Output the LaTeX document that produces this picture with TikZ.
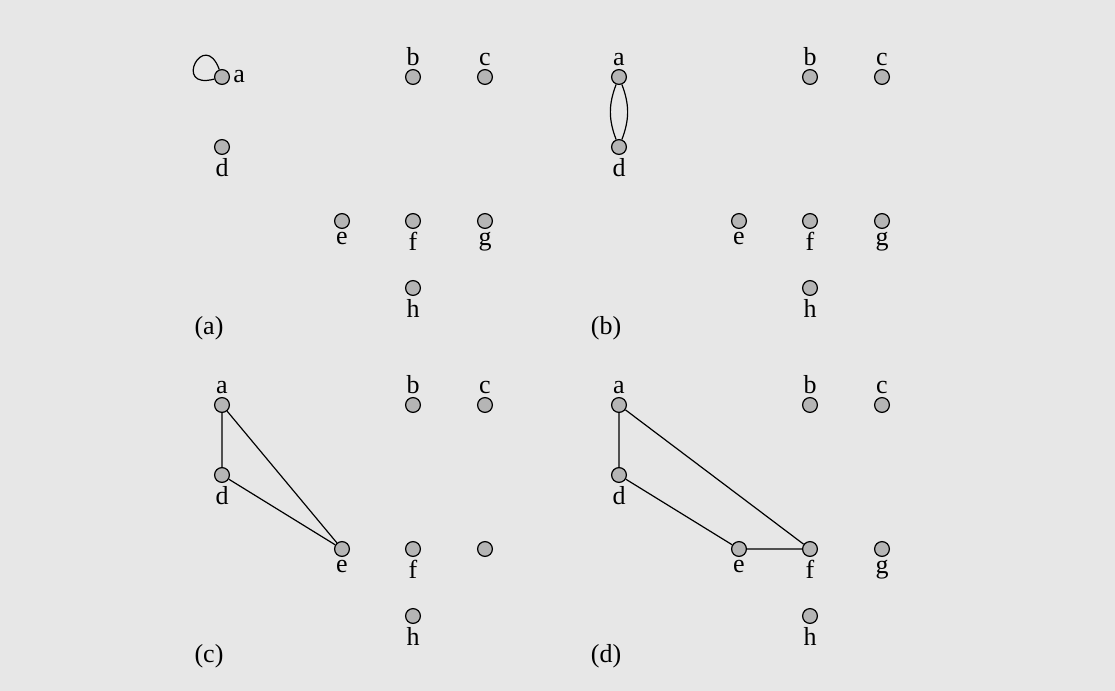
\documentclass[tikz,border=0pt]{standalone}
\usepackage{fontspec}
\setmainfont{Liberation Serif}
\usetikzlibrary{positioning}
\definecolor{panelbg}{gray}{0.905}
\definecolor{vgray}{gray}{0.71}
\tikzset{
  vertex/.style={
    inner sep = 0pt,
    minimum size = 7.4pt,
    shape = circle,
    line width = 0.6pt,
    draw,
    fill = vgray
  },
  every label/.style = {
    inner sep = 1.5pt,
    font = \fontsize{13}{15}\selectfont
  },
  tag/.style={
    inner sep = 0pt,
    font = \fontsize{13}{15}\selectfont
  },
  every loop/.style = {},
  edge/.style = {line width=0.6pt}
}
\begin{document}
\begin{tikzpicture}[x=0.5pt,y=0.5pt]
    \fill[panelbg] (0,0) rectangle (1115,-691);
    % (a)
    \begin{scope}
    \node[vertex,label=right:a] (a1) at (222,-77) {};
    \node[vertex,label=above:b] (b1) at (413,-77) {};
    \node[vertex,label=above:c] (c1) at (485,-77) {};
    \node[vertex,label=below:d] (d1) at (222,-147) {};
    \node[vertex,label=below:e] (e1) at (342,-221) {};
    \node[vertex,label=below:f] (f1) at (413,-221) {};
    \node[vertex,label=below:g] (g1) at (485,-221) {};
    \node[vertex,label=below:h] (h1) at (413,-288) {};
    \node[tag] (t1) at (209,-328) {(a)};
    \draw[edge] (a1) to[loop,out=110,in=195,min distance=22pt] (a1);
    \end{scope}
    % (b)
    \begin{scope}[xshift=198.5pt]
    \node[vertex,label=above:a] (a2) at (222,-77) {};
    \node[vertex,label=above:b] (b2) at (413,-77) {};
    \node[vertex,label=above:c] (c2) at (485,-77) {};
    \node[vertex,label=below:d] (d2) at (222,-147) {};
    \node[vertex,label=below:e] (e2) at (342,-221) {};
    \node[vertex,label=below:f] (f2) at (413,-221) {};
    \node[vertex,label=below:g] (g2) at (485,-221) {};
    \node[vertex,label=below:h] (h2) at (413,-288) {};
    \node[tag] (t2) at (209,-328) {(b)};
    \draw[edge] (a2) to[bend left=21] (d2);
    \draw[edge] (a2) to[bend right=21] (d2);
    \end{scope}
    % (c)
    \begin{scope}[yshift=-164pt]
    \node[vertex,label=above:a] (a3) at (222,-77) {};
    \node[vertex,label=above:b] (b3) at (413,-77) {};
    \node[vertex,label=above:c] (c3) at (485,-77) {};
    \node[vertex,label=below:d] (d3) at (222,-147) {};
    \node[vertex,label=below:e] (e3) at (342,-221) {};
    \node[vertex,label=below:f] (f3) at (413,-221) {};
    \node[vertex] (g3) at (485,-221) {};
    \node[vertex,label=below:h] (h3) at (413,-288) {};
    \node[tag] (t3) at (209,-328) {(c)};
    \draw[edge] (a3) -- (d3) -- (e3) -- (a3);
    \end{scope}
    % (d)
    \begin{scope}[xshift=198.5pt,yshift=-164pt]
    \node[vertex,label=above:a] (a4) at (222,-77) {};
    \node[vertex,label=above:b] (b4) at (413,-77) {};
    \node[vertex,label=above:c] (c4) at (485,-77) {};
    \node[vertex,label=below:d] (d4) at (222,-147) {};
    \node[vertex,label=below:e] (e4) at (342,-221) {};
    \node[vertex,label=below:f] (f4) at (413,-221) {};
    \node[vertex,label=below:g] (g4) at (485,-221) {};
    \node[vertex,label=below:h] (h4) at (413,-288) {};
    \node[tag] (t4) at (209,-328) {(d)};
    \draw[edge] (a4) -- (d4) -- (e4) -- (f4) -- (a4);
    \end{scope}
\end{tikzpicture}
\end{document}
